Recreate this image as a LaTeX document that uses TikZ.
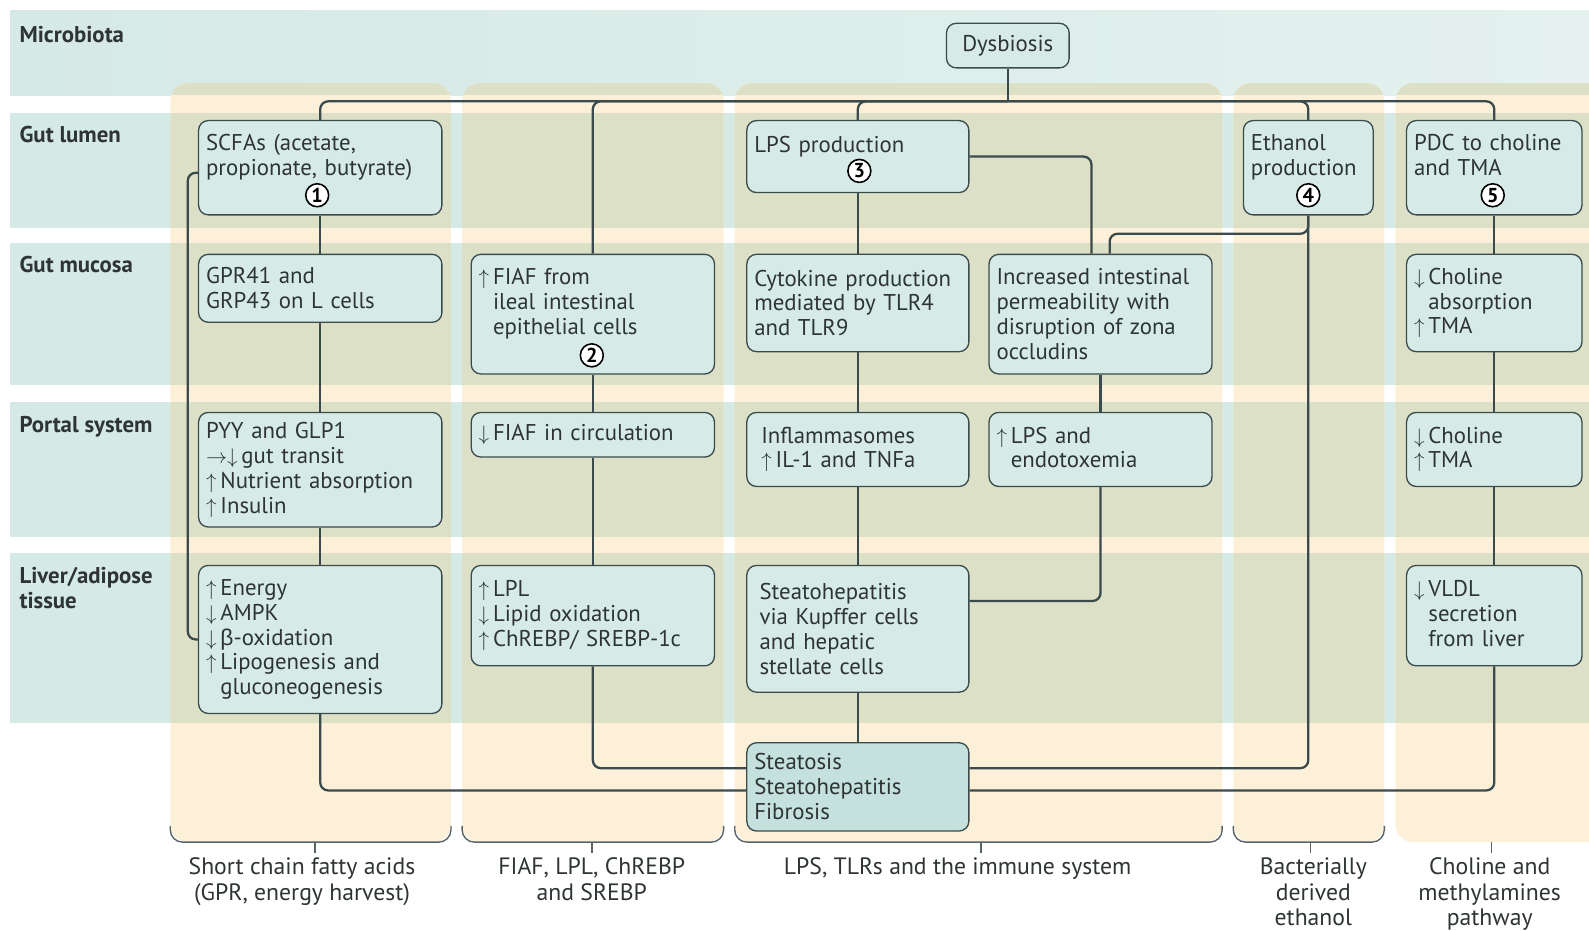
\documentclass[tikz,border=0pt]{standalone}
\usepackage{fontspec}
\setmainfont{PT Sans}
\newfontfamily\symf{Liberation Sans}
\usetikzlibrary{calc}

\definecolor{bandc}{HTML}{D5E9E6}
\definecolor{bandr}{HTML}{E4F1EF}
\definecolor{colc}{HTML}{FDF0D9}
\definecolor{mixc}{HTML}{DCE0C6}
\definecolor{boxc}{HTML}{D6EBE8}
\definecolor{endc}{HTML}{C4E1DD}
\definecolor{linec}{HTML}{3B4A4D}
\definecolor{txtc}{HTML}{2E3434}

\newcommand{\upa}{$\uparrow$\,}
\newcommand{\dna}{$\downarrow$\,}
\newcommand{\rta}{$\rightarrow$}
\newcommand{\ind}{\phantom{\upa}}

\tikzset{
  box/.style={draw=linec, line width=0.75pt, fill=boxc, rounded corners=5.5pt,
    align=left, inner xsep=0.15cm, inner ysep=2pt, text=txtc,
    font=\fontsize{13}{14.2}\selectfont},
  bw/.code={\pgfmathsetmacro\bxw{#1}\pgfmathsetmacro\bxt{#1-0.3}%
    \tikzset{minimum width=\bxw cm, text width=\bxt cm}},
  bh/.style={minimum height=#1cm},
  numc/.style={circle, draw=black, fill=white, line width=0.9pt, inner sep=0pt,
    minimum size=0.46cm, font=\bfseries\fontsize{11.5}{11.5}\selectfont},
  link/.style={draw=linec, line width=1.3pt, rounded corners=4.5pt},
  brace/.style={draw=linec!85, line width=0.8pt, rounded corners=7pt},
  rowlab/.style={anchor=north west, align=left, inner sep=0pt, text=txtc,
    font=\bfseries\fontsize{13}{14.5}\selectfont},
  collab/.style={anchor=north, align=center, inner sep=0pt, text=txtc,
    font=\fontsize{13.5}{14.6}\selectfont}
}

\begin{document}
\begin{tikzpicture}[x=0.0203cm, y=-0.0203cm]
  \useasboundingbox (0,0) rectangle (1568,918);

  % layer bands
  \shade[left color=bandc, right color=bandr] (10,10) rectangle (1568,94);
  \foreach \t/\b in {112/225, 240/380, 397/530, 546/713}
    \fill[bandc] (10,\t) rectangle (1568,\b);

  % pathway columns
  \foreach \l/\r in {168/445, 456/714, 725/1206, 1217/1366, 1377/1620} {
    \fill[colc, rounded corners=10] (\l,82) rectangle (\r,831);
    \begin{scope}
      \clip[rounded corners=10] (\l,82) rectangle (\r,831);
      \foreach \t/\b in {10/94, 112/225, 240/380, 397/530, 546/713}
        \fill[mixc] (0,\t) rectangle (1620,\b);
    \end{scope}
  }

  % row labels
  \node[rowlab] (lmic) at (19,26) {Microbiota};
  \node[rowlab] (llum) at (19,124) {Gut lumen};
  \node[rowlab] (lmuc) at (19,252) {Gut mucosa};
  \node[rowlab] (lpor) at (19,410) {Portal system};
  \node[rowlab] (lliv) at (19,559) {Liver/adipose\\tissue};

  % boxes
  \node[box, bw=2.456, bh=0.893, align=center] (dys) at (994.5,45) {Dysbiosis};

  \node[box, bw=4.872, bh=1.888] (scfa) at (316,165.5) {SCFAs (acetate,\\propionate, butyrate)\\~};
  \node[box, bw=4.872, bh=1.36] (gpr) at (316,284.5) {GPR41 and\\GRP43 on L cells};
  \node[box, bw=4.872, bh=2.294] (pyy) at (316,463.5) {PYY and GLP1\\\rta\dna gut transit\\\upa Nutrient absorption\\\upa Insulin};
  \node[box, bw=4.872, bh=2.964] (energy) at (316,631) {\upa Energy\\\dna AMPK\\\dna {\symf β}-oxidation\\\upa Lipogenesis and\\\ind gluconeogenesis};

  \node[box, bw=4.872, bh=2.395] (fiaf) at (585,310) {\upa FIAF from\\\ind ileal intestinal\\\ind epithelial cells\\~};
  \node[box, bw=4.872, bh=0.893] (fcirc) at (585,429) {\dna FIAF in circulation};
  \node[box, bw=4.872, bh=2.01] (lpl) at (585,607.5) {\upa LPL\\\dna Lipid oxidation\\\upa ChREBP/ SREBP-1c};

  \node[box, bw=4.446, bh=1.441] (lps) at (846.5,154.5) {LPS production\\~};
  \node[box, bw=4.446, bh=1.949] (cyto) at (846.5,299) {Cytokine production\\mediated by TLR4\\and TLR9};
  \node[box, bw=4.446, bh=1.482] (inflam) at (846.5,443.5) {\hspace*{4pt}Inflammasomes\\\hspace*{4pt}\upa IL-1 and TNFa};
  \node[box, bw=4.446, bh=2.538] (steato) at (846.5,620.5) {\hspace*{3pt}Steatohepatitis\\\hspace*{3pt}via Kupffer cells\\\hspace*{3pt}and hepatic\\\hspace*{3pt}stellate cells};

  \node[box, bw=4.466, bh=2.395] (incr) at (1086,310) {Increased intestinal\\permeability with\\disruption of zona\\occludins};
  \node[box, bw=4.466, bh=1.482] (endo) at (1086,443.5) {\upa LPS and\\\ind endotoxemia};

  \node[box, bw=2.598, bh=1.888] (eth) at (1291,165.5) {Ethanol\\production\\~};

  \node[box, bw=3.512, bh=1.888] (pdc) at (1474.5,165.5) {PDC to choline\\and TMA\\~};
  \node[box, bw=3.512, bh=1.949] (chola) at (1474.5,299) {\dna Choline\\\ind absorption\\\upa TMA};
  \node[box, bw=3.512, bh=1.482] (cholt) at (1474.5,443.5) {\dna Choline\\\upa TMA};
  \node[box, bw=3.512, bh=2.01] (vldl) at (1474.5,607.5) {\dna VLDL\\\ind secretion\\\ind from liver};

  \node[box, fill=endc, bw=4.446, bh=1.766] (endb) at (846.5,776.5) {Steatosis\\Steatohepatitis\\Fibrosis};

  % connectors
  \coordinate (bus) at (994.5,100);
  \coordinate (ly1) at (0,758);
  \coordinate (ly2) at (0,780);
  \coordinate (ly3) at (0,593);
  \draw[link] (dys.south) -- (bus);
  \draw[link] (bus) -| (scfa.north);
  \draw[link] (bus) -| (fiaf.north);
  \draw[link] (bus) -| (lps.north);
  \draw[link] (bus) -| (eth.north);
  \draw[link] (bus) -| (pdc.north);

  \draw[link] (scfa) -- (gpr);
  \draw[link] (gpr) -- (pyy);
  \draw[link] (pyy) -- (energy);
  \draw[link] ($(scfa.west)+(0,5)$) -- ++(-10,0) |- (energy.west);
  \draw[link] (energy.south) |- (endb.west |- ly2);

  \draw[link] (fiaf) -- (fcirc);
  \draw[link] (fcirc) -- (lpl);
  \draw[link] (lpl.south) |- (endb.west |- ly1);

  \draw[link] (lps) -- (cyto);
  \draw[link] (cyto) -- (inflam);
  \draw[link] (inflam) -- (steato);
  \draw[link] (steato) -- (endb);
  \draw[link] (lps.east) -| ($(incr.north)+(-9,0)$);
  \draw[link] (eth.south) -- ++(0,18) -| ($(incr.north)+(9,0)$);
  \draw[link] (eth.south) |- (endb.east |- ly1);
  \draw[link] (incr) -- (endo);
  \draw[link] (endo.south) |- (steato.east |- ly3);

  \draw[link] (pdc) -- (chola);
  \draw[link] (chola) -- (cholt);
  \draw[link] (cholt) -- (vldl);
  \draw[link] (vldl.south) |- (endb.east |- ly2);

  % step numbers
  \node[numc] (n1) at ($(scfa.south)+(-3,-20)$) {1};
  \node[numc] (n2) at ($(fiaf.south)+(-1,-19)$) {2};
  \node[numc] (n3) at ($(lps.south)+(1.5,-22)$) {3};
  \node[numc] (n4) at ($(eth.south)+(0,-20)$) {4};
  \node[numc] (n5) at ($(pdc.south)+(-1.5,-20)$) {5};

  % braces and pathway labels
  \draw[brace] (168,815) |- (311,831) -| (445,815);
  \draw[brace] (456,815) |- (584,831) -| (714,815);
  \draw[brace] (725,815) |- (968,831) -| (1206,815);
  \draw[brace] (1217,815) |- (1293,831) -| (1366,815);
  \foreach \x in {311, 584, 968, 1293, 1472}
    \draw[linec!85, line width=0.8pt] (\x,831) -- (\x,842);

  \node[collab] (p1) at (298,846) {Short chain fatty acids\\(GPR, energy harvest)};
  \node[collab] (p2) at (584,846) {FIAF, LPL, ChREBP\\and SREBP};
  \node[collab] (p3) at (945,846) {LPS, TLRs and the immune system};
  \node[collab] (p4) at (1296,846) {Bacterially\\derived\\ethanol};
  \node[collab] (p5) at (1470,846) {Choline and\\methylamines\\pathway};
\end{tikzpicture}
\end{document}
